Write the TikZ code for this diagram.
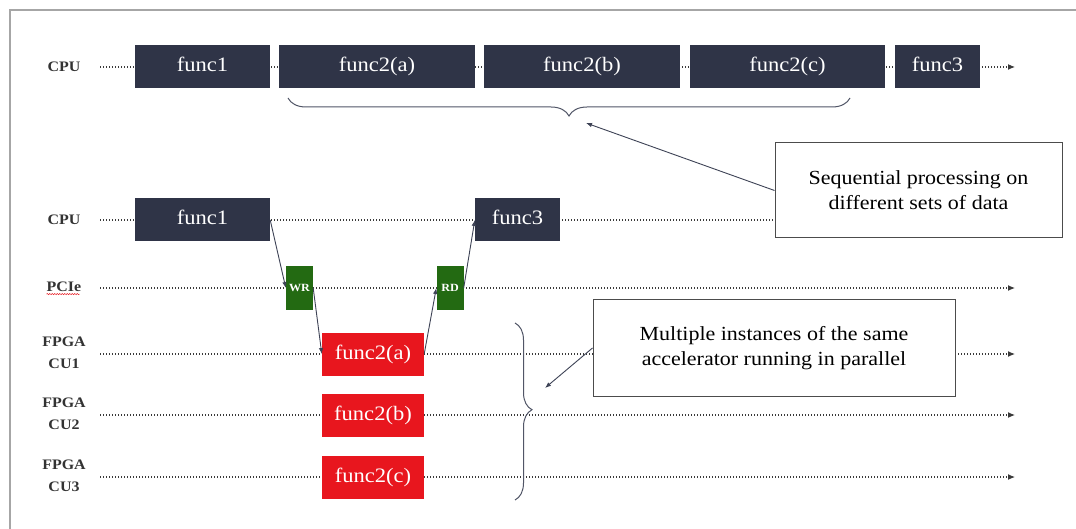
\documentclass[tikz,border=0pt]{standalone}
\usepackage{fontspec}
\setmainfont[FakeStretch=1.1]{Liberation Serif}
\usetikzlibrary{arrows.meta,decorations.pathreplacing,decorations.pathmorphing}
\definecolor{navy}{HTML}{2F3447}
\definecolor{fred}{HTML}{E8161E}
\definecolor{pgreen}{HTML}{236A12}
\definecolor{lnc}{HTML}{3A3A3A}
\definecolor{cnc}{HTML}{3E4356}
\definecolor{lblc}{HTML}{333333}
\definecolor{framec}{HTML}{A6A6A6}
\begin{document}
\begin{tikzpicture}[x=1pt,y=-1pt,
  boxbase/.style={inner sep=0pt, minimum height=43pt, text=white, text height=14pt, text depth=4pt, font=\fontsize{20.5}{24}\selectfont},
  cpubox/.style={boxbase, fill=navy},
  fpgabox/.style={boxbase, fill=fred, minimum width=102pt},
  pcibox/.style={inner sep=0pt, minimum height=43pt, minimum width=27pt, fill=pgreen, text=white, font=\fontsize{11}{12}\selectfont\bfseries},
  lbl/.style={inner sep=0pt, align=center, text=lblc, font=\fontsize{14.5}{21.5}\selectfont\bfseries},
  tline/.style={draw=lnc, line width=1.1pt, dash pattern=on 1.4pt off 1.6pt, -{Latex[length=7pt,width=6pt]}},
  conn/.style={draw=cnc, line width=0.9pt, -{Latex[length=6pt,width=4.5pt]}},
  callout/.style={draw=black!70, line width=1pt, fill=white, align=center, inner sep=0pt, font=\fontsize{20}{25}\selectfont},
  bracestyle/.style={draw=cnc!90, line width=1pt, decorate},
]
\useasboundingbox (0,0) rectangle (1076,529);
\fill[white] (0,0) rectangle (1076,529);
\draw[framec, line width=2pt] (10,10) rectangle (1100,560);

% row coordinates
\coordinate (s0) at (100,67);  \coordinate (e0) at (1015,67);
\coordinate (s1) at (100,220); \coordinate (e1) at (1015,220);
\coordinate (s2) at (100,288); \coordinate (e2) at (1015,288);
\coordinate (s3) at (100,354); \coordinate (e3) at (1015,354);
\coordinate (s4) at (100,415); \coordinate (e4) at (1015,415);
\coordinate (s5) at (100,477); \coordinate (e5) at (1015,477);

\draw[tline] (s0) -- (e0);
\draw[tline] (s1) -- (e1);
\draw[tline] (s2) -- (e2);
\draw[tline] (s3) -- (e3);
\draw[tline] (s4) -- (e4);
\draw[tline] (s5) -- (e5);

% labels
\node[lbl] (l0) at (64,67) {CPU};
\node[lbl] (l1) at (64,220) {CPU};
\node[lbl] (l2) at (64,287) {PCIe};
\draw[fred, line width=0.5pt, decorate, decoration={snake, amplitude=0.6pt, segment length=2.5pt}] (l2.south west) ++(0,2) -- ++(33,0);
\node[lbl] (l3) at (64,353) {FPGA\\CU1};
\node[lbl] (l4) at (64,414) {FPGA\\CU2};
\node[lbl] (l5) at (64,476) {FPGA\\CU3};

% top CPU row
\node[cpubox, minimum width=135pt] (a1) at (202.5,67) {func1};
\node[cpubox, minimum width=196pt] (a2) at (377,67) {func2(a)};
\node[cpubox, minimum width=196pt] (a3) at (582,67) {func2(b)};
\node[cpubox, minimum width=195pt] (a4) at (787.5,67) {func2(c)};
\node[cpubox, minimum width=85pt] (a5) at (937.5,67) {func3};

\draw[bracestyle, decoration={brace, amplitude=18pt, aspect=0.5}] (850,98) -- (288,98);

% lower diagram
\node[cpubox, minimum width=135pt] (b1) at (202.5,220) {func1};
\node[cpubox, minimum width=85pt] (b3) at (517.5,220) {func3};
\node[pcibox] (wr) at (299.5,288) {WR};
\node[pcibox] (rd) at (450,288) {RD};
\node[fpgabox] (c1) at (373,354) {func2(a)};
\node[fpgabox] (c2) at (373,415) {func2(b)};
\node[fpgabox] (c3) at (373,477) {func2(c)};

\draw[conn] (b1.east) -- (wr.west);
\draw[conn] (wr.east) -- (c1.west);
\draw[conn] (c1.east) -- (rd.west);
\draw[conn] (rd.east) -- (b3.west);

\draw[bracestyle, decoration={brace, amplitude=17pt, aspect=0.49}] (515,323) -- (515,500);

% callouts
\node[callout, minimum width=287pt, minimum height=95pt] (co1) at (918.5,190.5) {Sequential processing on\\different sets of data};
\node[callout, minimum width=362pt, minimum height=96pt] (co2) at (774,348) {Multiple instances of the same\\accelerator running in parallel};
\coordinate (t1) at (586,123);
\coordinate (t2) at (545,388);
\draw[conn] (co1.west) -- (t1);
\draw[conn] (co2.west) -- (t2);
\end{tikzpicture}
\end{document}
